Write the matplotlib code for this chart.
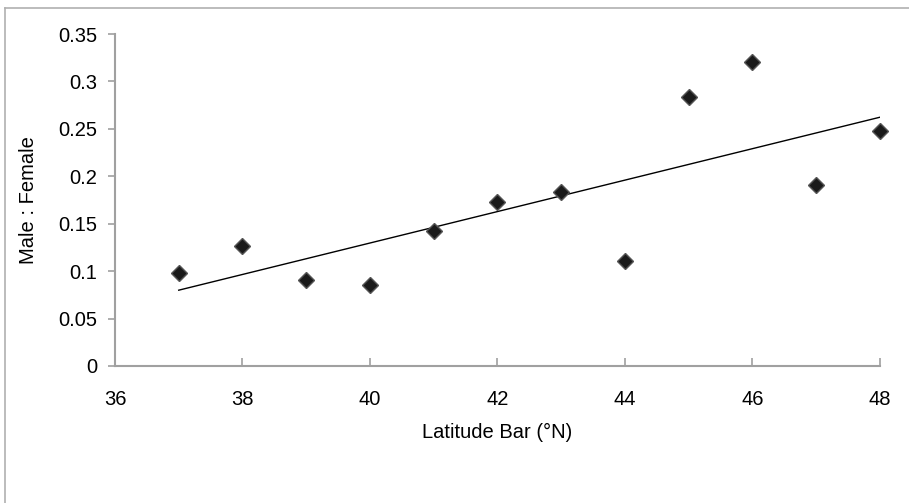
import matplotlib.pyplot as plt
import numpy as np
from matplotlib.lines import Line2D

plt.rcParams['font.family'] = ['Liberation Sans', 'DejaVu Sans']

latitud = [37, 38, 39, 40, 41, 42, 43, 44, 45, 46, 47, 48]
razon = [0.098, 0.127, 0.091, 0.085, 0.142, 0.173, 0.183, 0.111, 0.284, 0.320, 0.191, 0.248]
xticks = [36, 38, 40, 42, 44, 46, 48]
yticks = [0, 0.05, 0.1, 0.15, 0.2, 0.25, 0.3, 0.35]
ytick_labels = ["0", "0.05", "0.1", "0.15", "0.2", "0.25", "0.3", "0.35"]

fig = plt.figure(figsize=(9.09, 5.03), dpi=100)
ax = fig.add_axes([0.1265, 0.2724, 0.8415, 0.66])

# linea de tendencia
m, b = np.polyfit(latitud, razon, 1)
xt = np.array([latitud[0], latitud[-1]])
ax.plot(xt, m * xt + b, color="black", lw=1)

ax.plot(latitud, razon, linestyle="none", marker="D", ms=8.5, clip_on=False,
        markerfacecolor="#1a1a1a", markeredgecolor="#555555", markeredgewidth=1)

ax.set_xlim(36, 48)
ax.set_ylim(0, 0.35)
ax.set_xticks(xticks)
ax.set_yticks(yticks)
ax.set_yticklabels(ytick_labels)

gris = "#a0a0a0"
for s in ["top", "right"]:
    ax.spines[s].set_visible(False)
for s in ["left", "bottom"]:
    ax.spines[s].set_color(gris)
    ax.spines[s].set_linewidth(1.5)
ax.tick_params(axis="y", direction="out", length=5, width=1.2, color=gris, labelsize=14.5, pad=8)
ax.tick_params(axis="x", direction="in", length=6, width=1.2, color=gris, labelsize=14.5, pad=17)

ax.set_xlabel("Latitude Bar (°N)", fontsize=14.5, labelpad=10)
ax.set_ylabel("Male : Female", fontsize=14.5, labelpad=14)

# borde del grafico
fig.add_artist(Line2D([0.0055, 0.0055], [0, 0.984], color="#b0b0b0", lw=1.2))
fig.add_artist(Line2D([0.0055, 1], [0.984, 0.984], color="#b0b0b0", lw=1.2))

plt.savefig("out.png")
